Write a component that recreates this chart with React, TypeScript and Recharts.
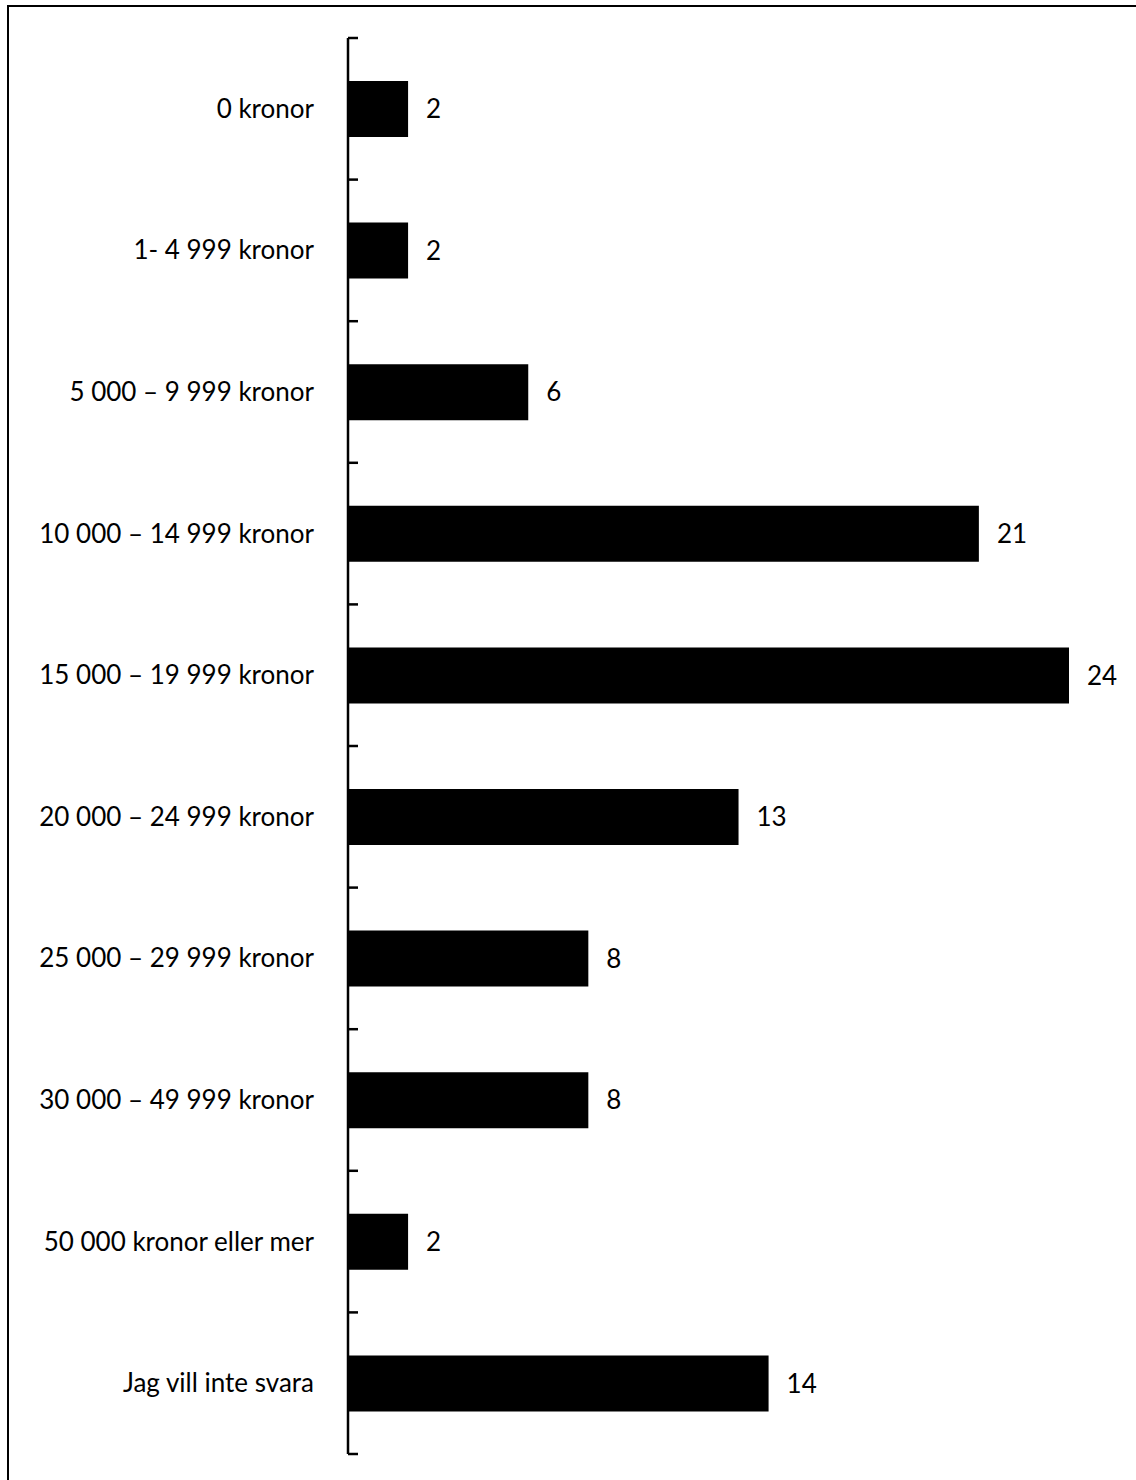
import { BarChart, Bar, XAxis, YAxis, LabelList } from "recharts";

const categories = [
  "0 kronor",
  "1- 4 999 kronor",
  "5 000 – 9 999 kronor",
  "10 000 – 14 999 kronor",
  "15 000 – 19 999 kronor",
  "20 000 – 24 999 kronor",
  "25 000 – 29 999 kronor",
  "30 000 – 49 999 kronor",
  "50 000 kronor eller mer",
  "Jag vill inte svara",
];
const values = [2, 2, 6, 21, 24, 13, 8, 8, 2, 14];

const data = categories.map((name, i) => ({ name, value: values[i] }));

const WIDTH = 1136;
const HEIGHT = 1480;
const MARGIN = { top: 38, right: 67, bottom: 26, left: 0 };
const AXIS_WIDTH = 348;
const BAND = (HEIGHT - MARGIN.top - MARGIN.bottom) / categories.length;
const FONT = "Lato, 'Noto Sans', sans-serif";

const CategoryTick = (props: any) => {
  const { x, y, payload, index } = props;
  const axisX = x + 34;
  return (
    <g>
      <text
        x={x}
        y={y}
        dy={9}
        textAnchor="end"
        fill="#000"
        fontSize={26}
        fontFamily={FONT}
      >
        {payload.value}
      </text>
      <line
        x1={axisX}
        x2={axisX + 10}
        y1={y - BAND / 2}
        y2={y - BAND / 2}
        stroke="#000"
        strokeWidth={2.5}
      />
      {index === categories.length - 1 && (
        <line
          x1={axisX}
          x2={axisX + 10}
          y1={y + BAND / 2}
          y2={y + BAND / 2}
          stroke="#000"
          strokeWidth={2.5}
        />
      )}
    </g>
  );
};

export default function App() {
  return (
    <div
      style={{
        position: "absolute",
        left: 0,
        top: 0,
        width: WIDTH,
        height: HEIGHT,
        background: "#fff",
        overflow: "hidden",
      }}
    >
      <div
        style={{
          position: "absolute",
          left: 7,
          top: 5,
          width: WIDTH,
          height: HEIGHT,
          borderLeft: "2.5px solid #000",
          borderTop: "2.5px solid #000",
        }}
      />
      <BarChart
        width={WIDTH}
        height={HEIGHT}
        data={data}
        layout="vertical"
        margin={MARGIN}
        style={{ position: "absolute", left: 0, top: 0 }}
      >
        <XAxis type="number" domain={[0, 24]} hide />
        <YAxis
          type="category"
          dataKey="name"
          width={AXIS_WIDTH}
          axisLine={{ stroke: "#000", strokeWidth: 2.5 }}
          tickLine={false}
          tickSize={6}
          tickMargin={28}
          tick={<CategoryTick />}
          interval={0}
        />
        <Bar dataKey="value" fill="#000" barSize={56} isAnimationActive={false}>
          <LabelList
            dataKey="value"
            position="right"
            offset={18}
            fill="#000"
            fontSize={26}
            fontFamily={FONT}
          />
        </Bar>
      </BarChart>
    </div>
  );
}
